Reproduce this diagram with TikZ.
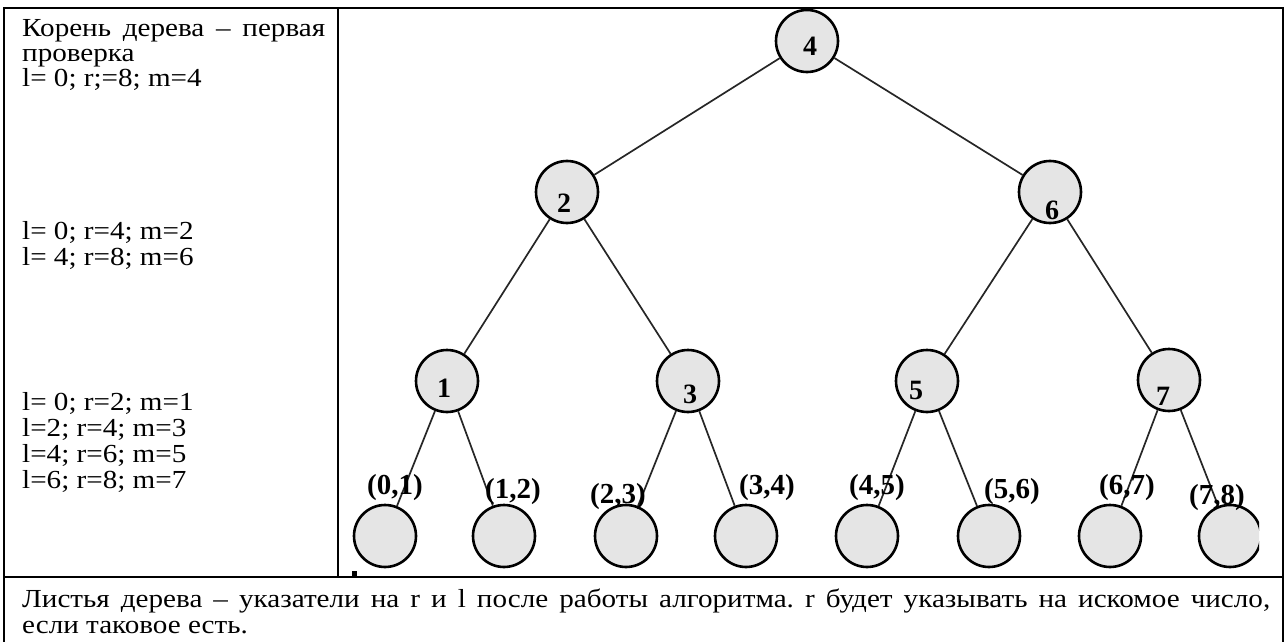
\documentclass[tikz,border=0pt]{standalone}
\usepackage{fontspec}
\setmainfont{Liberation Serif}
\newfontfamily\notefont[FakeStretch=1.12]{Liberation Serif}
\usetikzlibrary{calc}
\frenchspacing
\begin{document}
\begin{tikzpicture}[x=1pt,y=-1pt,
  frame/.style={line width=2.5pt},
  vertex/.style={circle,draw=black,fill=black!10,line width=2.6pt,minimum size=62pt,inner sep=0pt},
  edge/.style={line width=1.7pt,draw=black!85},
  num/.style={inner sep=0pt,font=\fontsize{28}{28}\bfseries\selectfont},
  pair/.style={inner sep=0pt,font=\fontsize{29}{29}\bfseries\selectfont},
  txt/.style={anchor=base west,inner sep=0pt,font=\notefont\fontsize{26}{26}\selectfont}
]
\useasboundingbox (0,0) rectangle (1286,642);

% table frame
\draw[frame] (4,642) -- (4,8) -- (1283,8) -- (1283,642);
\draw[frame] (338,8) -- (338,577);
\draw[frame] (4,577) -- (1283,577);
\fill (352,571) rectangle (357,577);

% left column notes
\node[txt] (t1) at (22,37) {\makebox[303pt][s]{Корень дерева – первая}};
\node[txt] (t2) at (22,62) {проверка};
\node[txt] (t3) at (22,87) {l= 0; r;=8; m=4};
\node[txt] (t4) at (22,239) {l= 0; r=4; m=2};
\node[txt] (t5) at (22,265) {l= 4; r=8; m=6};
\node[txt] (t6) at (22,410) {l= 0; r=2; m=1};
\node[txt] (t7) at (22,436) {l=2; r=4; m=3};
\node[txt] (t8) at (22,462) {l=4; r=6; m=5};
\node[txt] (t9) at (22,488) {l=6; r=8; m=7};

% caption below the table row
\node[txt] (c1) at (22,607) {\makebox[1248pt][s]{Листья дерева – указатели на r и l после работы алгоритма. r будет указывать на искомое число,}};
\node[txt] (c2) at (22,633) {если таковое есть.};

% inner vertices
\node[vertex] (n4) at (807,41) {};
\node[vertex] (n2) at (567,192) {};
\node[vertex] (n6) at (1050,192) {};
\node[vertex] (n1) at (447,381) {};
\node[vertex] (n3) at (688,381) {};
\node[vertex] (n5) at (927,381) {};
\node[vertex] (n7) at (1169,380) {};

% leaves
\node[vertex] (l1) at (385,536) {};
\node[vertex] (l2) at (504,536) {};
\node[vertex] (l3) at (626,536) {};
\node[vertex] (l4) at (746,536) {};
\node[vertex] (l5) at (867,536) {};
\node[vertex] (l6) at (989,536) {};
\node[vertex] (l7) at (1110,536) {};
\begin{scope}
  \clip (0,0) rectangle (1259,642);
  \node[vertex] (l8) at (1230,536) {};
\end{scope}

% edges
\draw[edge] (n4) -- (n2);
\draw[edge] (n4) -- (n6);
\draw[edge] (n2) -- (n1);
\draw[edge] (n2) -- (n3);
\draw[edge] (n6) -- (n5);
\draw[edge] (n6) -- (n7);
\draw[edge] (n1) -- (l1);
\draw[edge] (n1) -- (l2);
\draw[edge] (n3) -- (l3);
\draw[edge] (n3) -- (l4);
\draw[edge] (n5) -- (l5);
\draw[edge] (n5) -- (l6);
\draw[edge] (n7) -- (l7);
\draw[edge] (n7) -- (l8);

% vertex keys
\node[num] (k4) at ($(n4)+(3,5)$) {4};
\node[num] (k2) at ($(n2)+(-3,11)$) {2};
\node[num] (k6) at ($(n6)+(2,18)$) {6};
\node[num] (k1) at ($(n1)+(-3,7)$) {1};
\node[num] (k3) at ($(n3)+(2,13)$) {3};
\node[num] (k5) at ($(n5)+(-11,9)$) {5};
\node[num] (k7) at ($(n7)+(-6,16)$) {7};

% leaf intervals
\node[pair] (p1) at (395,488) {(0,1)};
\node[pair] (p2) at (513,492) {(1,2)};
\node[pair] (p3) at (618,497) {(2,3)};
\node[pair] (p4) at (767,488) {(3,4)};
\node[pair] (p5) at (877,488) {(4,5)};
\node[pair] (p6) at (1012,492) {(5,6)};
\node[pair] (p7) at (1127,488) {(6,7)};
\node[pair] (p8) at (1217,498) {(7,8)};
\end{tikzpicture}
\end{document}
